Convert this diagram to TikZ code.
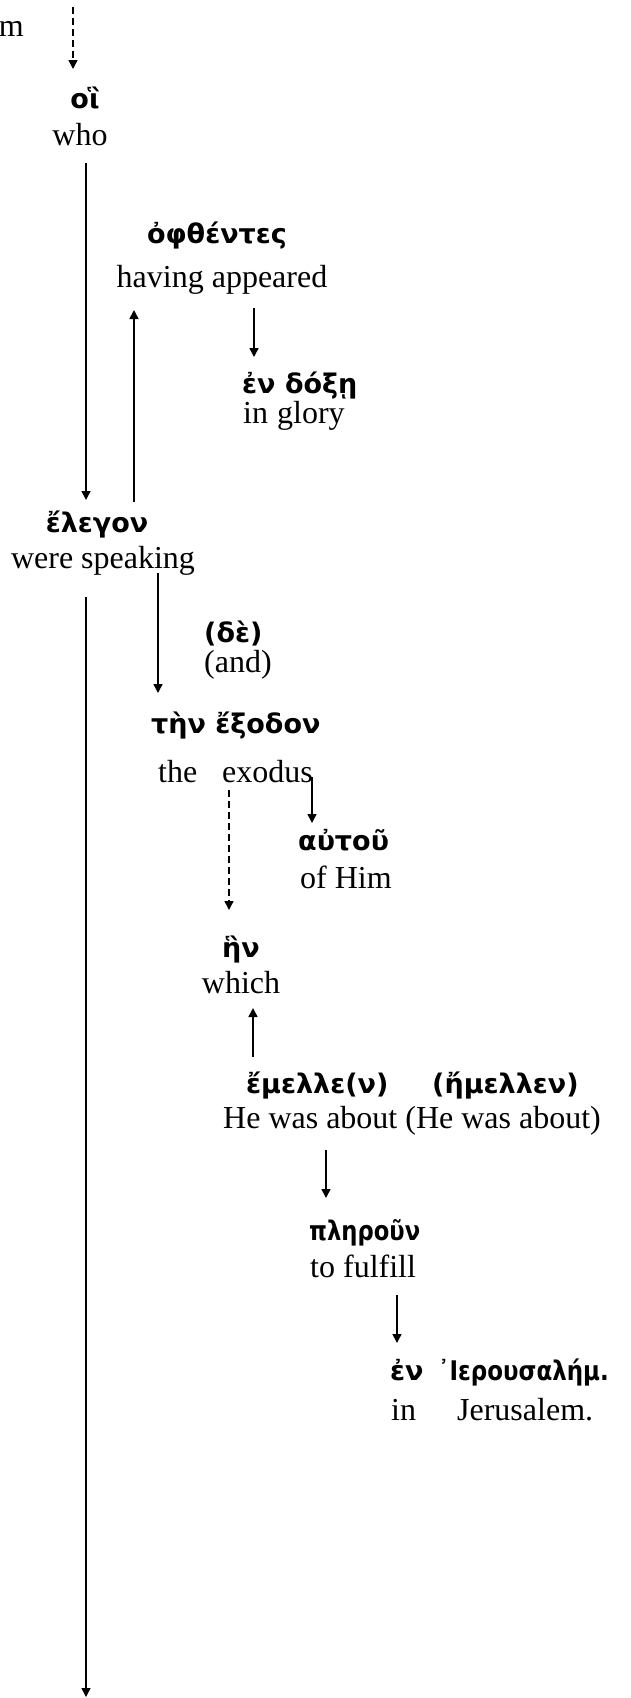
\documentclass[tikz,border=0pt]{standalone}
\usepackage{graphicx}
\usepackage{fontspec}
\setmainfont{Liberation Serif}
\newfontfamily\gkfam{DejaVu Sans}
\usetikzlibrary{arrows.meta}
\newcommand\mygk{\gkfam\bfseries\fontsize{27}{32}\selectfont}
\newcommand\myen{\rmfamily\fontsize{32}{37}\selectfont}
\tikzset{
  gk/.style={inner sep=0pt, font=\mygk},
  en/.style={inner sep=0pt, font=\myen},
  arr/.style={line width=1.5pt, -{Triangle[width=9pt,length=9pt]}},
  darr/.style={arr, dash pattern=on 7pt off 4pt},
}
\begin{document}
\begin{tikzpicture}[x=1pt,y=-1pt]
\useasboundingbox (0,0) rectangle (631,1698);
% text nodes
\node[en,anchor=base east] (m) at (24,36) {m};
\node[gk,anchor=base] (oi) at (85,108) {οἳ};
\node[en,anchor=base] (who) at (80,145) {who};
\node[gk,anchor=base] (ophth) at (217,243) {ὀφθέντες};
\node[en,anchor=base] (having) at (222,287) {having appeared};
\node[gk,anchor=base west] (endoxe) at (242,393) {ἐν δόξῃ};
\node[en,anchor=base west] (inglory) at (243,423) {\makebox[34pt][l]{in}glory};
\node[gk,anchor=base] (elegon) at (97,532) {ἔλεγον};
\node[en,anchor=base] (speaking) at (103,568) {were speaking};
\node[gk,anchor=base west] (de) at (204,642) {(δὲ)};
\node[en,anchor=base west] (and) at (204,672) {(and)};
\node[gk,anchor=base west] (tenexodon) at (151,733) {τὴν ἔξοδον};
\node[en,anchor=base west] (theexodus) at (158,782) {\makebox[64pt][l]{the}exodus};
\node[gk,anchor=base west] (autou) at (298,850) {αὐτοῦ};
\node[en,anchor=base west] (ofhim) at (300,888) {of Him};
\node[gk,anchor=base west] (hen) at (222,957) {ἣν};
\node[en,anchor=base] (which) at (241,993) {which};
\node[gk,anchor=base west] (emelle) at (246,1093) {\makebox[186pt][l]{ἔμελλε(ν)}(ἤμελλεν)};
\node[en,anchor=base west] (about) at (223,1128) {He was about (He was about)};
\node[gk,anchor=base west] (plerun) at (309,1240) {\scalebox{0.84}[1]{πληροῦν}};
\node[en,anchor=base west] (fulfill) at (310,1277) {to fulfill};
\node[gk,anchor=base west] (enier) at (390,1380) {\makebox[48pt][l]{ἐν}\scalebox{0.85}[1]{᾿Ιερουσαλήμ.}};
\node[en,anchor=base west] (jer) at (391,1420) {\makebox[66pt][l]{in}Jerusalem.};
% free ends
\coordinate (top) at (73,7);
\coordinate (bottom) at (86,1697);
% connectors
\draw[darr] (top) -- ([shift={(-12,-39)}]oi.base);
\draw[arr] ([shift={(6,18)}]who.base) -- ([shift={(-11,-32)}]elegon.base);
\draw[arr] ([shift={(37,-30)}]elegon.base) -- ([shift={(-88,23)}]having.base);
\draw[arr] ([shift={(32,21)}]having.base) -- ([shift={(12,-36)}]endoxe.base west);
\draw[arr] ([shift={(55,5)}]speaking.base) -- ([shift={(7,-40)}]tenexodon.base west);
\draw[arr] ([shift={(-17,29)}]speaking.base) -- (bottom);
\draw[arr] ([shift={(154,-5)}]theexodus.base west) -- ([shift={(14,-27)}]autou.base west);
\draw[darr] ([shift={(71,8)}]theexodus.base west) -- ([shift={(7,-47)}]hen.base west);
\draw[arr] ([shift={(7,-36)}]emelle.base west) -- ([shift={(12,15)}]which.base);
\draw[arr] ([shift={(103,22)}]about.base west) -- ([shift={(17,-42)}]plerun.base west);
\draw[arr] ([shift={(87,18)}]fulfill.base west) -- ([shift={(7,-37)}]enier.base west);
\end{tikzpicture}
\end{document}
